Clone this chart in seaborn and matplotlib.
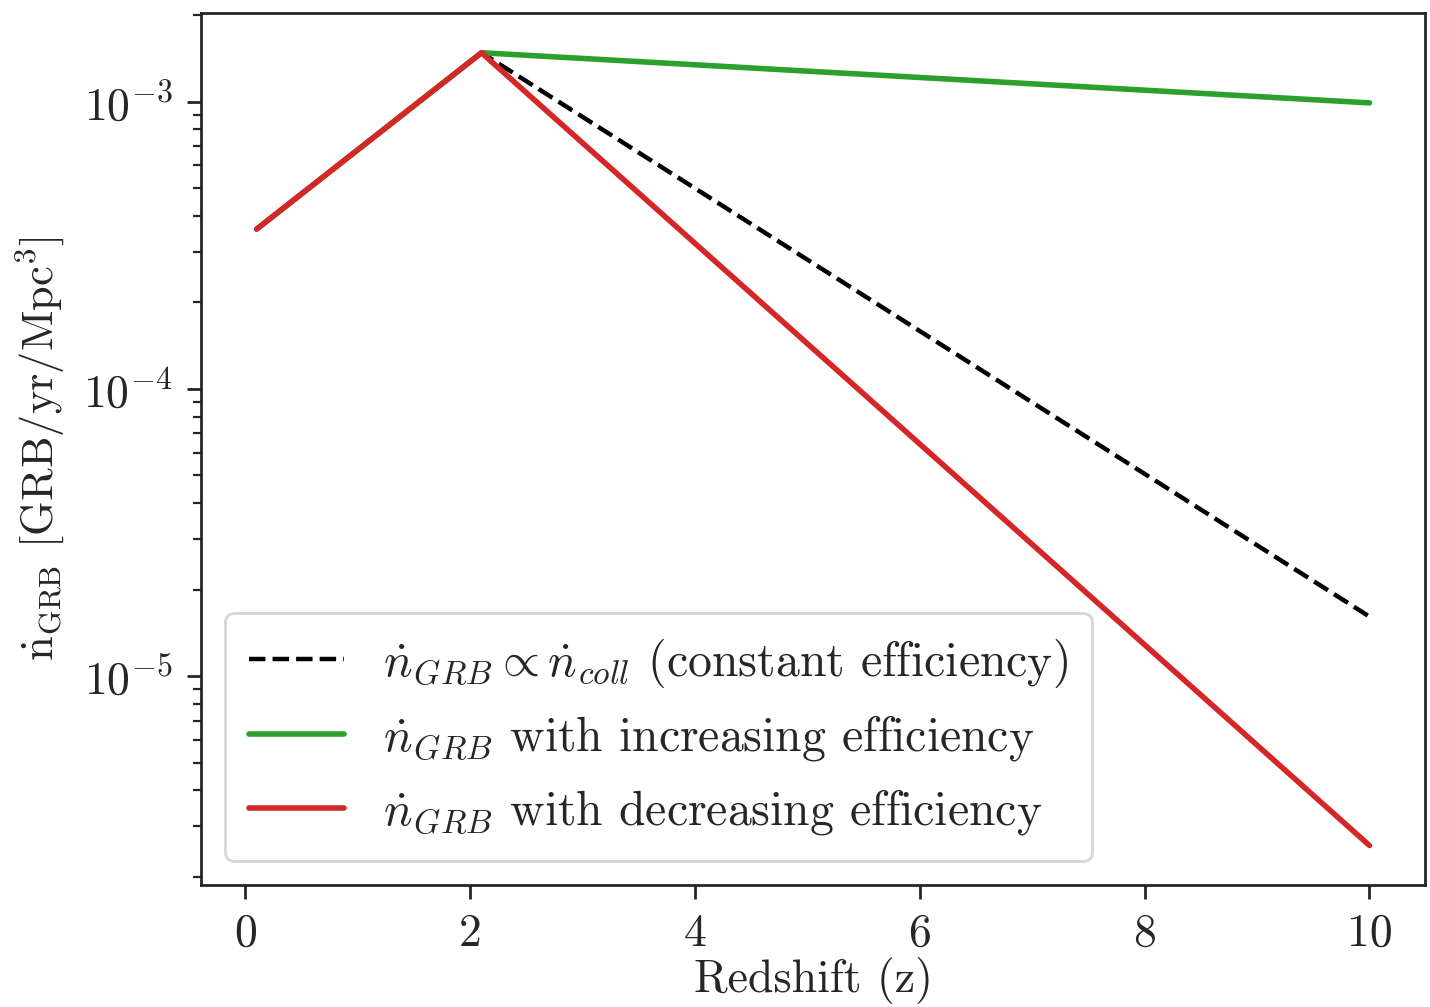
import numpy as np
import pandas as pd
import matplotlib
matplotlib.use("Agg")
import matplotlib.pyplot as plt
import seaborn as sns

# Redshift grid points (break at the peak of the collapse rate)
redshift = [0.1, 2.1, 10.0]

# GRB rate density [GRB / yr / Mpc^3]
rate_constant = [3.6e-4, 1.48e-3, 1.61e-5]
rate_increasing = [3.6e-4, 1.48e-3, 9.9e-4]
rate_decreasing = [3.6e-4, 1.48e-3, 2.57e-6]

labels = [
    r"$\dot{n}_{GRB} \propto \dot{n}_{coll}$ (constant efficiency)",
    r"$\dot{n}_{GRB}$ with increasing efficiency",
    r"$\dot{n}_{GRB}$ with decreasing efficiency",
]

sns.set_style("ticks")
plt.rcParams.update({
    "font.family": "serif",
    "font.serif": ["cmr10"],
    "mathtext.fontset": "cm",
    "axes.formatter.use_mathtext": True,
    "axes.unicode_minus": True,
    "font.size": 16.5,
    "xtick.labelsize": 16.5,
    "ytick.labelsize": 16.5,
    "axes.labelsize": 16.5,
    "legend.fontsize": 17.2,
    "axes.linewidth": 1.0,
    "xtick.direction": "out",
    "ytick.direction": "out",
})

fig = plt.figure(figsize=(7.15, 5.035), dpi=200)
ax = fig.add_axes([0.1406, 0.121, 0.856, 0.866])

df = pd.DataFrame({
    "z": redshift * 3,
    "rate": rate_constant + rate_increasing + rate_decreasing,
    "model": [labels[0]] * 3 + [labels[1]] * 3 + [labels[2]] * 3,
})

styles = {
    labels[0]: dict(color="black", ls="--", lw=1.6),
    labels[1]: dict(color="#2ca02c", ls="-", lw=2.0),
    labels[2]: dict(color="#d62728", ls="-", lw=2.0),
}

for lab in labels:
    sub = df[df["model"] == lab]
    sns.lineplot(data=sub, x="z", y="rate", ax=ax, label=lab,
                 color=styles[lab]["color"], linestyle=styles[lab]["ls"],
                 linewidth=styles[lab]["lw"])

ax.set_yscale("log")
ax.set_xticks([0, 2, 4, 6, 8, 10])
ax.set_xticklabels(["0", "2", "4", "6", "8", "10"])
ax.set_xlabel("Redshift (z)", labelpad=1)
ax.set_ylabel(r"$\dot{\mathrm{n}}_{\mathrm{GRB}}$ [GRB/yr/Mpc$^3$]",
              fontsize=16, labelpad=6)
ax.tick_params(which="major", length=5, width=1.0, pad=5)
ax.tick_params(which="minor", length=3, width=0.8)

leg = ax.legend(loc="lower left", frameon=True, fancybox=True,
                framealpha=0.8, edgecolor="#cccccc", handlelength=2.0,
                borderpad=0.5, labelspacing=0.5)

fig.savefig("out.png", dpi=200)
